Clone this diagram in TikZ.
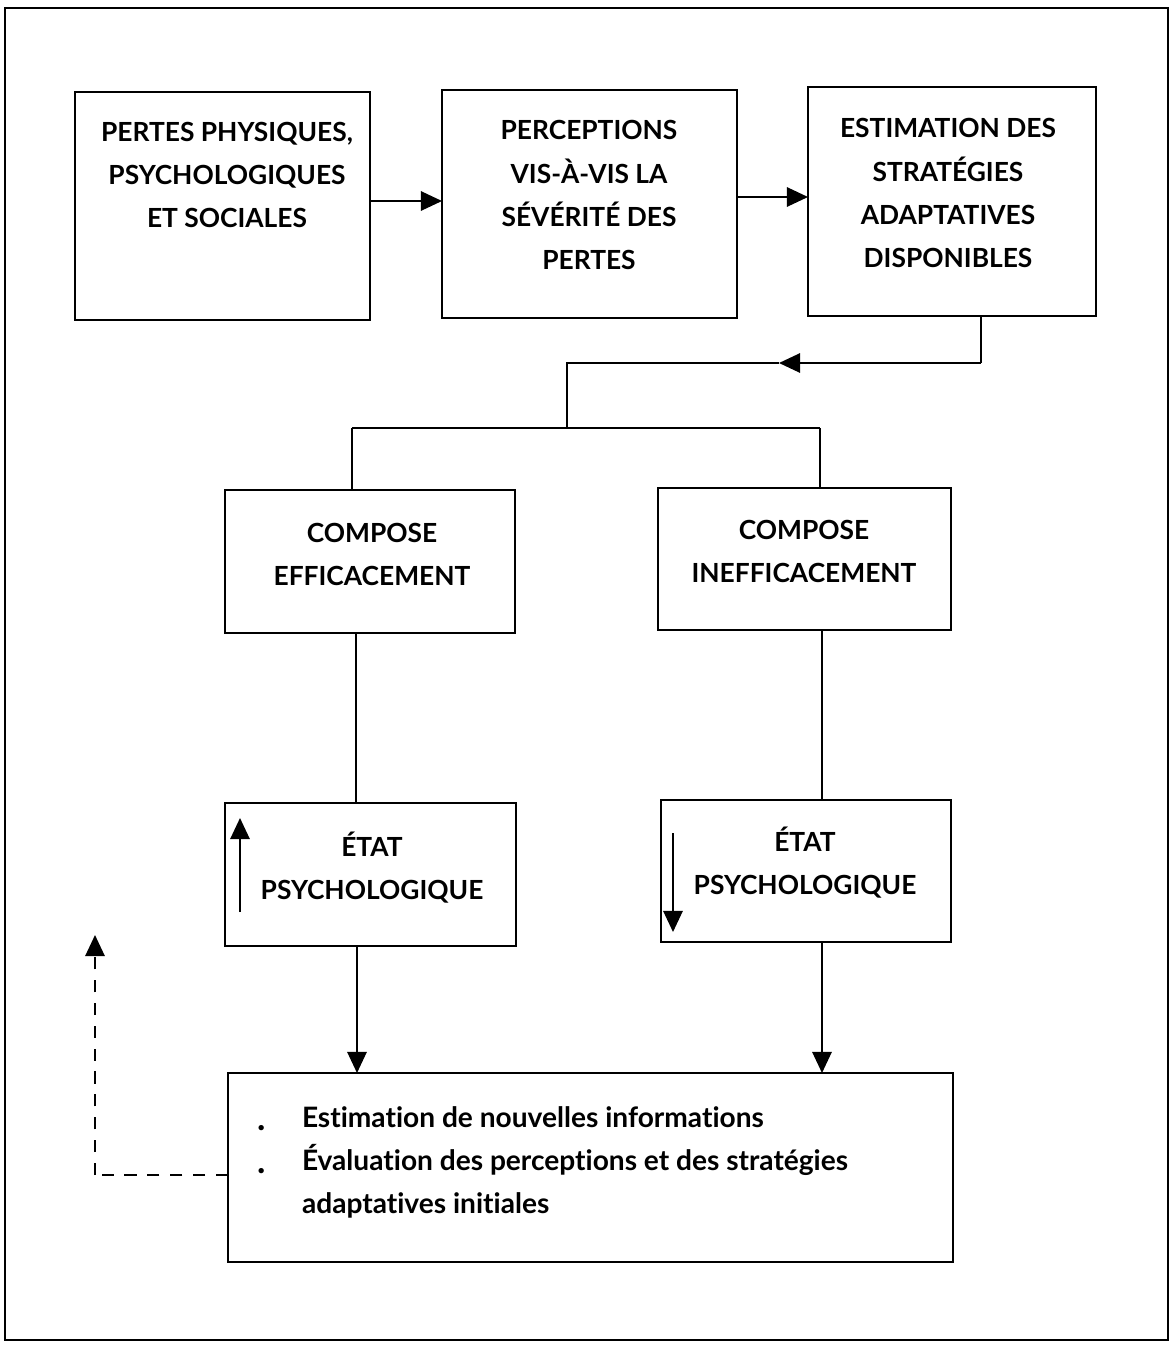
\documentclass[tikz,border=0pt]{standalone}
\usepackage{fontspec}
\setmainfont{Lato}[Ligatures=NoCommon]
\usetikzlibrary{arrows.meta}
\newlength\px
\setlength\px{0.02cm}
\begin{document}
\begin{tikzpicture}[x=0.02cm,y=-0.02cm,
  box/.style={draw,line width=1.3pt,minimum width=#1},
  caps/.style={align=center,font=\bfseries\fontsize{15}{24.5}\selectfont},
  conn/.style={line width=1.1pt},
  tip/.style={-{Triangle[length=12pt,width=11pt]}},
  every node/.style={inner sep=0pt,outer sep=0pt}]
\useasboundingbox (0,0) rectangle (1171,1346);
\draw[line width=1.2pt] (5,8) rectangle (1168,1340);
% boxes
\node[box=295\px,minimum height=228\px] (b1) at (222.5,206) {};
\node[box=295\px,minimum height=228\px] (b2) at (589.5,204) {};
\node[box=288\px,minimum height=229\px] (b3) at (952,201.5) {};
\node[box=290\px,minimum height=143\px] (b4) at (370,561.5) {};
\node[box=293\px,minimum height=142\px] (b5) at (804.5,559) {};
\node[box=291\px,minimum height=143\px] (b6) at (370.5,874.5) {};
\node[box=290\px,minimum height=142\px] (b7) at (806,871) {};
\node[box=725\px,minimum height=189\px] (b8) at (590.5,1167.5) {};
% texts
\node[caps] (t1) at (227,175) {PERTES PHYSIQUES,\\PSYCHOLOGIQUES\\ET SOCIALES};
\node[caps] (t2) at (589,195) {PERCEPTIONS\\VIS-À-VIS LA\\SÉVÉRITÉ DES\\PERTES};
\node[caps] (t3) at (948,193) {ESTIMATION DES\\STRATÉGIES\\ADAPTATIVES\\DISPONIBLES};
\node[caps] (t4) at (372,554) {COMPOSE\\EFFICACEMENT};
\node[caps] (t5) at (804,551) {COMPOSE\\INEFFICACEMENT};
\node[caps] (t6) at (372,868) {ÉTAT\\PSYCHOLOGIQUE};
\node[caps] (t7) at (805,863) {ÉTAT\\PSYCHOLOGIQUE};
\node[align=left,anchor=north west,font=\bfseries\fontsize{16}{24.5}\selectfont] (t8) at (302,1107)
  {Estimation de nouvelles informations\\Évaluation des perceptions et des stratégies\\adaptatives initiales};
\node[font=\bfseries\fontsize{20}{20}\selectfont] (d1) at (262,1128) {.};
\node[font=\bfseries\fontsize{20}{20}\selectfont] (d2) at (262,1171) {.};
% top row arrows
\draw[conn,tip] (b1.east |- 0,201) -- (b2.west |- 0,201);
\draw[conn,tip] (b2.east |- 0,197) -- (b3.west |- 0,197);
% feedback from b3
\coordinate (c1) at (981,363);
\coordinate (c2) at (779,363);
\coordinate (c3) at (567,363);
\coordinate (c4) at (567,428);
\coordinate (c5) at (352,428);
\coordinate (c6) at (820,428);
\draw[conn] (b3.south -| c1) -- (c1);
\draw[conn,tip] (c1) -- (c2);
\draw[conn] (c2) -- (c3) -- (c4);
\draw[conn] (c5) -- (c6);
\draw[conn] (c5) -- (b4.north -| c5);
\draw[conn] (c6) -- (b5.north -| c6);
% verticals
\draw[conn] (b4.south -| 356,0) -- (b6.north -| 356,0);
\draw[conn] (b5.south -| 822,0) -- (b7.north -| 822,0);
\draw[conn,tip] (b6.south -| 357,0) -- (b8.north -| 357,0);
\draw[conn,tip] (b7.south -| 822,0) -- (b8.north -| 822,0);
% state arrows
\coordinate (u1) at (240,912);
\coordinate (u2) at (240,818);
\coordinate (v1) at (673,833);
\coordinate (v2) at (673,932);
\draw[conn,tip] (u1) -- (u2);
\draw[conn,tip] (v1) -- (v2);
% dashed feedback
\coordinate (e1) at (95,1175);
\coordinate (e2) at (95,935);
\draw[conn,dash pattern=on 7pt off 6pt] (b8.west |- e1) -- (e1);
\draw[conn,dash pattern=on 7pt off 6pt,tip] (e1) -- (e2);
\end{tikzpicture}
\end{document}
